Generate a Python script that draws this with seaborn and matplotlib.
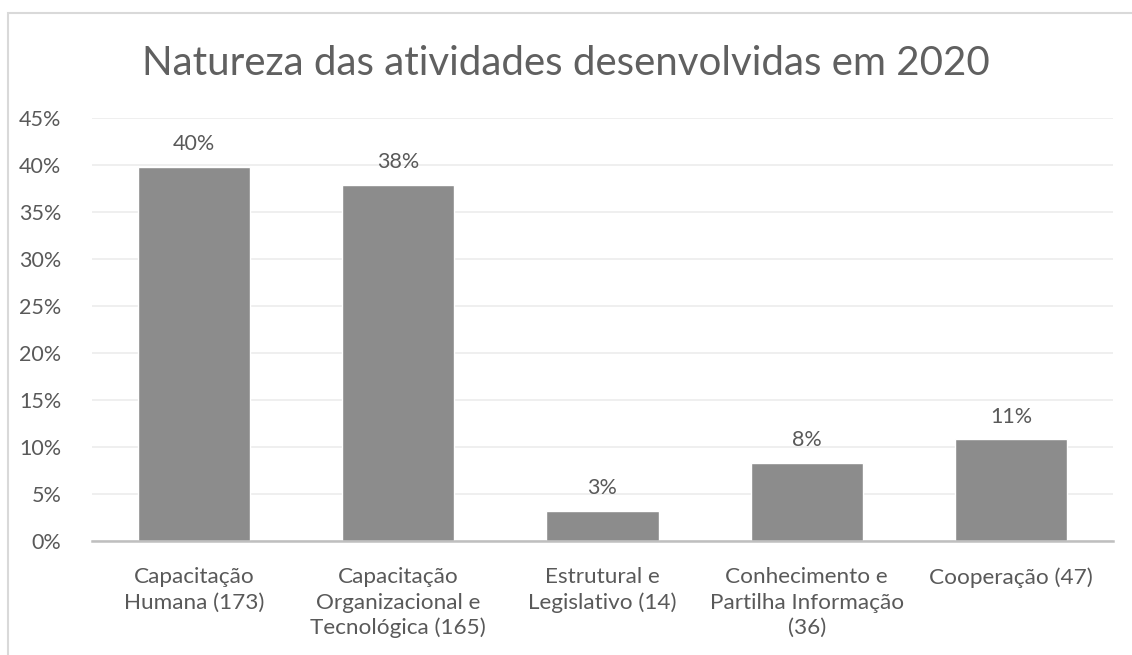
import matplotlib
matplotlib.use("Agg")
import matplotlib.pyplot as plt
import seaborn as sns
import pandas as pd
from matplotlib.patches import Rectangle
from matplotlib.ticker import FuncFormatter, MultipleLocator

categories = [
    "Capacitação\nHumana (173)",
    "Capacitação\nOrganizacional e\nTecnológica (165)",
    "Estrutural e\nLegislativo (14)",
    "Conhecimento e\nPartilha Informação\n(36)",
    "Cooperação (47)",
]
values = [0.398, 0.379, 0.032, 0.083, 0.108]
labels = ["40%", "38%", "3%", "8%", "11%"]
title = "Natureza das atividades desenvolvidas em 2020"

sns.set_theme(style="white")
plt.rcParams["font.family"] = ["Lato", "DejaVu Sans"]

TXT = "#595959"
BAR = "#8c8c8c"

fig = plt.figure(figsize=(11.32, 6.55), dpi=100)
ax = fig.add_axes([92/1132, 1-541/655, (1113-92)/1132, (541-118)/655])

df = pd.DataFrame({"cat": categories, "val": values})
sns.barplot(data=df, x="cat", y="val", color=BAR, saturation=1, width=0.55, ax=ax)

ax.set_ylim(0, 0.45)
ax.set_xlim(-0.5, 4.5)
ax.yaxis.set_major_locator(MultipleLocator(0.05))
ax.yaxis.set_major_formatter(FuncFormatter(lambda v, p: f"{v*100:.0f}%"))
ax.grid(axis="y", color="#ececec", linewidth=1.2)
ax.set_axisbelow(True)
for s in ["top", "right", "left"]:
    ax.spines[s].set_visible(False)
ax.spines["bottom"].set_color("#bfbfbf")
ax.spines["bottom"].set_linewidth(1.8)
ax.set_xlabel("")
ax.set_ylabel("")
ax.tick_params(axis="y", labelsize=15.5, colors=TXT, length=0, pad=22)
ax.tick_params(axis="x", labelsize=16.2, colors=TXT, length=0, pad=19)
for t in ax.get_xticklabels():
    t.set_linespacing(1.32)
    t.set_verticalalignment("top")

for i, (v, lab) in enumerate(zip(values, labels)):
    ax.annotate(lab, (i, v), xytext=(0, 9), textcoords="offset points",
                ha="center", va="bottom", fontsize=15.5, color=TXT)

fig.text(0.5, 1-75/655, title, ha="center", va="baseline", fontsize=29,
         color="#606060")

fig.patches.append(Rectangle((8/1132, -0.1), 1.2, 1-13/655+0.1, transform=fig.transFigure,
                             fill=False, edgecolor="#d9d9d9", linewidth=1.5))

fig.savefig("out.png", dpi=100, facecolor="white")
